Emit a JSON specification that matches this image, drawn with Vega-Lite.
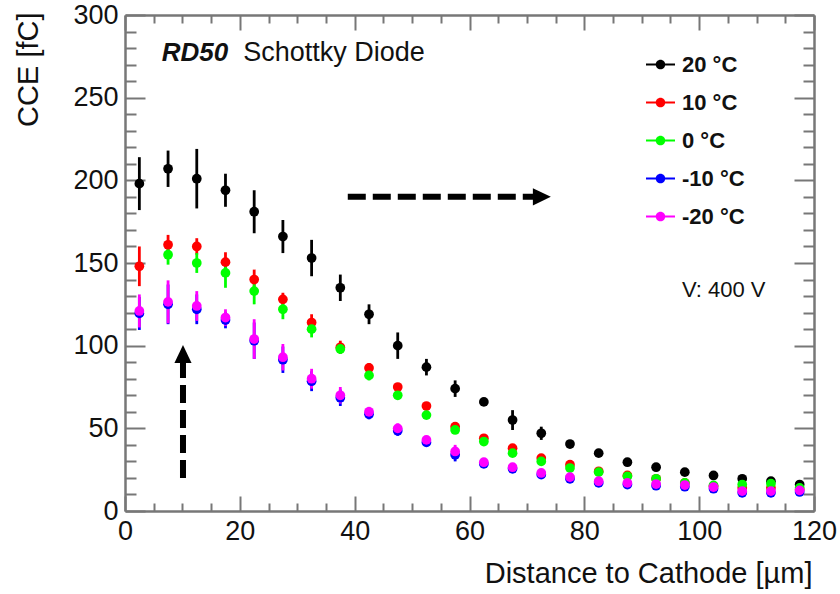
{
  "$schema": "https://vega.github.io/schema/vega-lite/v6.json",
  "width": 689,
  "height": 496,
  "autosize": "none",
  "padding": {"left": 125, "top": 15, "right": 26, "bottom": 83},
  "background": "white",
  "config": {
    "view": {"stroke": null},
    "font": "Liberation Sans",
    "axis": {
      "grid": false,
      "domainColor": "#777777",
      "domainWidth": 2.5,
      "tickColor": "#777777",
      "tickWidth": 2,
      "labelFont": "Liberation Sans",
      "labelFontSize": 27,
      "labelColor": "#111111",
      "labelFlush": false,
      "labelOverlap": false,
      "titleFont": "Liberation Sans",
      "titleFontSize": 29,
      "titleFontWeight": "normal",
      "titleColor": "#111111"
    },
    "legend": {
      "orient": "none",
      "legendX": 521,
      "legendY": 35,
      "title": null,
      "padding": 0,
      "symbolType": "M-1,-0.07L1,-0.07L1,0.07L-1,0.07ZM0.33,0A0.33,0.33 0 1,1 -0.33,0A0.33,0.33 0 1,1 0.33,0Z",
      "symbolSize": 841,
      "symbolStrokeWidth": 0,
      "symbolOpacity": 1,
      "labelFont": "Liberation Sans",
      "labelFontSize": 22,
      "labelFontWeight": "bold",
      "labelColor": "#111111",
      "labelOffset": 7,
      "rowPadding": 12
    }
  },
  "data": {
    "values": [
      {"T": "20 °C", "x": 2.5, "y": 198, "e": 16},
      {"T": "20 °C", "x": 7.5, "y": 207, "e": 11},
      {"T": "20 °C", "x": 12.5, "y": 201, "e": 18},
      {"T": "20 °C", "x": 17.5, "y": 194, "e": 10},
      {"T": "20 °C", "x": 22.5, "y": 181, "e": 13},
      {"T": "20 °C", "x": 27.5, "y": 166, "e": 10},
      {"T": "20 °C", "x": 32.5, "y": 153, "e": 11},
      {"T": "20 °C", "x": 37.5, "y": 135, "e": 8},
      {"T": "20 °C", "x": 42.5, "y": 119, "e": 6},
      {"T": "20 °C", "x": 47.5, "y": 100, "e": 8},
      {"T": "20 °C", "x": 52.5, "y": 87, "e": 5},
      {"T": "20 °C", "x": 57.5, "y": 74, "e": 5},
      {"T": "20 °C", "x": 62.5, "y": 66, "e": 2},
      {"T": "20 °C", "x": 67.5, "y": 55, "e": 6},
      {"T": "20 °C", "x": 72.5, "y": 47, "e": 4},
      {"T": "20 °C", "x": 77.5, "y": 40.5, "e": 2},
      {"T": "20 °C", "x": 82.5, "y": 35, "e": 1.5},
      {"T": "20 °C", "x": 87.5, "y": 29.5, "e": 1.5},
      {"T": "20 °C", "x": 92.5, "y": 26.5, "e": 1},
      {"T": "20 °C", "x": 97.5, "y": 23.5, "e": 1},
      {"T": "20 °C", "x": 102.5, "y": 21.5, "e": 1},
      {"T": "20 °C", "x": 107.5, "y": 19.5, "e": 1},
      {"T": "20 °C", "x": 112.5, "y": 18, "e": 1},
      {"T": "20 °C", "x": 117.5, "y": 16, "e": 1},
      {"T": "10 °C", "x": 2.5, "y": 148, "e": 12},
      {"T": "10 °C", "x": 7.5, "y": 161, "e": 6},
      {"T": "10 °C", "x": 12.5, "y": 160, "e": 5},
      {"T": "10 °C", "x": 17.5, "y": 150.5, "e": 6},
      {"T": "10 °C", "x": 22.5, "y": 140, "e": 6},
      {"T": "10 °C", "x": 27.5, "y": 128, "e": 4},
      {"T": "10 °C", "x": 32.5, "y": 114, "e": 5},
      {"T": "10 °C", "x": 37.5, "y": 99, "e": 4},
      {"T": "10 °C", "x": 42.5, "y": 86.5, "e": 3},
      {"T": "10 °C", "x": 47.5, "y": 75, "e": 2},
      {"T": "10 °C", "x": 52.5, "y": 63.5, "e": 2},
      {"T": "10 °C", "x": 57.5, "y": 51, "e": 2},
      {"T": "10 °C", "x": 62.5, "y": 44, "e": 1.5},
      {"T": "10 °C", "x": 67.5, "y": 38, "e": 2},
      {"T": "10 °C", "x": 72.5, "y": 32, "e": 1.5},
      {"T": "10 °C", "x": 77.5, "y": 28, "e": 1},
      {"T": "10 °C", "x": 82.5, "y": 24, "e": 1},
      {"T": "10 °C", "x": 87.5, "y": 21.5, "e": 1},
      {"T": "10 °C", "x": 92.5, "y": 19.5, "e": 1},
      {"T": "10 °C", "x": 97.5, "y": 17, "e": 1},
      {"T": "10 °C", "x": 102.5, "y": 15, "e": 1},
      {"T": "10 °C", "x": 107.5, "y": 14, "e": 1},
      {"T": "10 °C", "x": 112.5, "y": 14, "e": 1},
      {"T": "10 °C", "x": 117.5, "y": 13, "e": 1},
      {"T": "0 °C", "x": 7.5, "y": 155, "e": 6},
      {"T": "0 °C", "x": 12.5, "y": 150, "e": 6},
      {"T": "0 °C", "x": 17.5, "y": 144, "e": 9},
      {"T": "0 °C", "x": 22.5, "y": 133, "e": 8},
      {"T": "0 °C", "x": 27.5, "y": 122, "e": 6},
      {"T": "0 °C", "x": 32.5, "y": 110, "e": 5},
      {"T": "0 °C", "x": 37.5, "y": 98, "e": 3},
      {"T": "0 °C", "x": 42.5, "y": 82, "e": 3},
      {"T": "0 °C", "x": 47.5, "y": 70, "e": 2},
      {"T": "0 °C", "x": 52.5, "y": 58, "e": 2},
      {"T": "0 °C", "x": 57.5, "y": 49, "e": 2},
      {"T": "0 °C", "x": 62.5, "y": 42, "e": 1.5},
      {"T": "0 °C", "x": 67.5, "y": 35, "e": 2},
      {"T": "0 °C", "x": 72.5, "y": 30, "e": 1.5},
      {"T": "0 °C", "x": 77.5, "y": 26, "e": 1},
      {"T": "0 °C", "x": 82.5, "y": 23.5, "e": 1},
      {"T": "0 °C", "x": 87.5, "y": 21, "e": 1},
      {"T": "0 °C", "x": 92.5, "y": 19.5, "e": 1},
      {"T": "0 °C", "x": 97.5, "y": 17, "e": 1},
      {"T": "0 °C", "x": 102.5, "y": 15.5, "e": 1},
      {"T": "0 °C", "x": 107.5, "y": 16, "e": 1},
      {"T": "0 °C", "x": 112.5, "y": 16.5, "e": 1},
      {"T": "0 °C", "x": 117.5, "y": 14, "e": 1},
      {"T": "-10 °C", "x": 2.5, "y": 119.5, "e": 10},
      {"T": "-10 °C", "x": 7.5, "y": 125, "e": 12},
      {"T": "-10 °C", "x": 12.5, "y": 122, "e": 9},
      {"T": "-10 °C", "x": 17.5, "y": 115.5, "e": 5},
      {"T": "-10 °C", "x": 22.5, "y": 103, "e": 11},
      {"T": "-10 °C", "x": 27.5, "y": 91.5, "e": 8},
      {"T": "-10 °C", "x": 32.5, "y": 78.5, "e": 6},
      {"T": "-10 °C", "x": 37.5, "y": 68.5, "e": 5},
      {"T": "-10 °C", "x": 42.5, "y": 58.5, "e": 3},
      {"T": "-10 °C", "x": 47.5, "y": 48.5, "e": 3},
      {"T": "-10 °C", "x": 52.5, "y": 41.5, "e": 2},
      {"T": "-10 °C", "x": 57.5, "y": 34, "e": 4},
      {"T": "-10 °C", "x": 62.5, "y": 28.5, "e": 2},
      {"T": "-10 °C", "x": 67.5, "y": 25.5, "e": 2},
      {"T": "-10 °C", "x": 72.5, "y": 22, "e": 1},
      {"T": "-10 °C", "x": 77.5, "y": 19.5, "e": 1},
      {"T": "-10 °C", "x": 82.5, "y": 17, "e": 1},
      {"T": "-10 °C", "x": 87.5, "y": 16, "e": 1},
      {"T": "-10 °C", "x": 92.5, "y": 15.3, "e": 1},
      {"T": "-10 °C", "x": 97.5, "y": 14.7, "e": 1},
      {"T": "-10 °C", "x": 102.5, "y": 13.5, "e": 1},
      {"T": "-10 °C", "x": 107.5, "y": 11, "e": 1},
      {"T": "-10 °C", "x": 112.5, "y": 11, "e": 1},
      {"T": "-10 °C", "x": 117.5, "y": 11.5, "e": 1},
      {"T": "-20 °C", "x": 2.5, "y": 121, "e": 10},
      {"T": "-20 °C", "x": 7.5, "y": 126.5, "e": 13},
      {"T": "-20 °C", "x": 12.5, "y": 124, "e": 9},
      {"T": "-20 °C", "x": 17.5, "y": 117, "e": 5},
      {"T": "-20 °C", "x": 22.5, "y": 104, "e": 12},
      {"T": "-20 °C", "x": 27.5, "y": 93, "e": 8},
      {"T": "-20 °C", "x": 32.5, "y": 80, "e": 6},
      {"T": "-20 °C", "x": 37.5, "y": 70, "e": 5},
      {"T": "-20 °C", "x": 42.5, "y": 60, "e": 3},
      {"T": "-20 °C", "x": 47.5, "y": 50, "e": 3},
      {"T": "-20 °C", "x": 52.5, "y": 43, "e": 2},
      {"T": "-20 °C", "x": 57.5, "y": 36, "e": 4},
      {"T": "-20 °C", "x": 62.5, "y": 29.5, "e": 2},
      {"T": "-20 °C", "x": 67.5, "y": 26.5, "e": 2},
      {"T": "-20 °C", "x": 72.5, "y": 23, "e": 1},
      {"T": "-20 °C", "x": 77.5, "y": 20.5, "e": 1},
      {"T": "-20 °C", "x": 82.5, "y": 18, "e": 1},
      {"T": "-20 °C", "x": 87.5, "y": 17, "e": 1},
      {"T": "-20 °C", "x": 92.5, "y": 16.3, "e": 1},
      {"T": "-20 °C", "x": 97.5, "y": 15.7, "e": 1},
      {"T": "-20 °C", "x": 102.5, "y": 14.5, "e": 1},
      {"T": "-20 °C", "x": 107.5, "y": 12, "e": 1},
      {"T": "-20 °C", "x": 112.5, "y": 12, "e": 1},
      {"T": "-20 °C", "x": 117.5, "y": 12.5, "e": 1}
    ]
  },
  "layer": [
    {
      "mark": {"type": "errorbar", "thickness": 2.8},
      "encoding": {
        "x": {
          "field": "x", "type": "quantitative",
          "scale": {"domain": [0, 120], "nice": false, "zero": false},
          "axis": {
            "orient": "bottom",
            "values": [0,5,10,15,20,25,30,35,40,45,50,55,60,65,70,75,80,85,90,95,100,105,110,115,120],
            "tickSize": {"condition": {"test": "datum.value % 20 === 0", "value": -15}, "value": -8},
            "labelExpr": "datum.value % 20 === 0 ? datum.label : ''",
            "labelPadding": 22,
            "title": "Distance to Cathode [µm]",
            "titleAnchor": "end",
            "titleAlign": "right",
            "titleBaseline": "alphabetic",
            "titleX": 687,
            "titleY": 71
          }
        },
        "y": {
          "field": "y", "type": "quantitative",
          "scale": {"domain": [0, 300], "nice": false},
          "axis": {
            "orient": "left",
            "values": [0,10,20,30,40,50,60,70,80,90,100,110,120,130,140,150,160,170,180,190,200,210,220,230,240,250,260,270,280,290,300],
            "tickSize": {"condition": {"test": "datum.value % 50 === 0", "value": -20}, "value": -11},
            "labelExpr": "datum.value % 50 === 0 ? datum.label : ''",
            "labelPadding": 27,
            "title": "CCE [fC]",
            "titleAngle": -90,
            "titleAnchor": "end",
            "titleAlign": "right",
            "titleBaseline": "top",
            "titleX": -111,
            "titleY": -3
          }
        },
        "yError": {"field": "e"},
        "color": {
          "field": "T", "type": "nominal",
          "scale": {"domain": ["20 °C", "10 °C", "0 °C", "-10 °C", "-20 °C"], "range": ["#000000", "#ff0000", "#00ff00", "#0000ff", "#ff00ff"]},
          "legend": {
            "encode": {
              "symbols": {
                "update": {
                  "fill": {"scale": "color", "field": "value"},
                  "opacity": {"value": 1}
                }
              }
            }
          }
        }
      }
    },
    {
      "mark": {"type": "point", "filled": true, "size": 95, "opacity": 1},
      "encoding": {
        "x": {
          "field": "x", "type": "quantitative",
          "axis": {
            "orient": "top",
            "values": [0,5,10,15,20,25,30,35,40,45,50,55,60,65,70,75,80,85,90,95,100,105,110,115,120],
            "tickSize": {"condition": {"test": "datum.value % 20 === 0", "value": -15}, "value": -8},
            "labels": false,
            "title": null
          }
        },
        "y": {
          "field": "y", "type": "quantitative",
          "axis": {
            "orient": "right",
            "values": [0,10,20,30,40,50,60,70,80,90,100,110,120,130,140,150,160,170,180,190,200,210,220,230,240,250,260,270,280,290,300],
            "tickSize": {"condition": {"test": "datum.value % 50 === 0", "value": -20}, "value": -11},
            "labels": false,
            "title": null
          }
        },
        "color": {
          "field": "T", "type": "nominal",
          "legend": {
            "encode": {
              "symbols": {
                "update": {
                  "fill": {"scale": "color", "field": "value"},
                  "opacity": {"value": 1}
                }
              }
            }
          }
        }
      }
    },
    {
      "data": {"values": [{"label": "RD50"}]},
      "mark": {"type": "text", "font": "Liberation Sans", "fontSize": 26, "fontWeight": "bold", "fontStyle": "italic", "align": "left", "baseline": "alphabetic", "color": "#111111"},
      "encoding": {
        "text": {"field": "label"},
        "x": {"datum": 6.4, "type": "quantitative", "axis": null},
        "y": {"datum": 272, "type": "quantitative", "axis": null}
      }
    },
    {
      "data": {"values": [{"label": "Schottky Diode"}]},
      "mark": {"type": "text", "font": "Liberation Sans", "fontSize": 27, "align": "left", "baseline": "alphabetic", "color": "#111111"},
      "encoding": {
        "text": {"field": "label"},
        "x": {"datum": 20.6, "type": "quantitative", "axis": null},
        "y": {"datum": 272, "type": "quantitative", "axis": null}
      }
    },
    {
      "data": {"values": [{"label": "V: 400 V"}]},
      "mark": {"type": "text", "font": "Liberation Sans", "fontSize": 22, "align": "left", "baseline": "alphabetic", "color": "#111111"},
      "encoding": {
        "text": {"field": "label"},
        "x": {"datum": 97.0, "type": "quantitative", "axis": null},
        "y": {"datum": 129.5, "type": "quantitative", "axis": null}
      }
    },
    {
      "data": {"values": [{"arrow": "horizontal"}]},
      "mark": {"type": "rule", "strokeWidth": 6, "strokeDash": [18, 7], "color": "#000000"},
      "encoding": {
        "x": {"datum": 38.8, "type": "quantitative", "axis": null},
        "x2": {"datum": 71.1},
        "y": {"datum": 190, "type": "quantitative", "axis": null}
      }
    },
    {
      "data": {"values": [{"arrow": "horizontal"}]},
      "mark": {"type": "point", "shape": "M-1,-0.95L1,0L-1,0.95Z", "filled": true, "size": 324, "color": "#000000", "opacity": 1},
      "encoding": {
        "x": {"datum": 72.6, "type": "quantitative", "axis": null},
        "y": {"datum": 190, "type": "quantitative", "axis": null}
      }
    },
    {
      "data": {"values": [{"arrow": "vertical"}]},
      "mark": {"type": "rule", "strokeWidth": 6, "strokeDash": [18, 7], "color": "#000000"},
      "encoding": {
        "x": {"datum": 10.1, "type": "quantitative", "axis": null},
        "y": {"datum": 20, "type": "quantitative", "axis": null},
        "y2": {"datum": 89.5}
      }
    },
    {
      "data": {"values": [{"arrow": "vertical"}]},
      "mark": {"type": "point", "shape": "M-0.95,1L0,-1L0.95,1Z", "filled": true, "size": 324, "color": "#000000", "opacity": 1},
      "encoding": {
        "x": {"datum": 10.1, "type": "quantitative", "axis": null},
        "y": {"datum": 95, "type": "quantitative", "axis": null}
      }
    }
  ],
  "resolve": {"axis": {"x": "independent", "y": "independent"}}
}
